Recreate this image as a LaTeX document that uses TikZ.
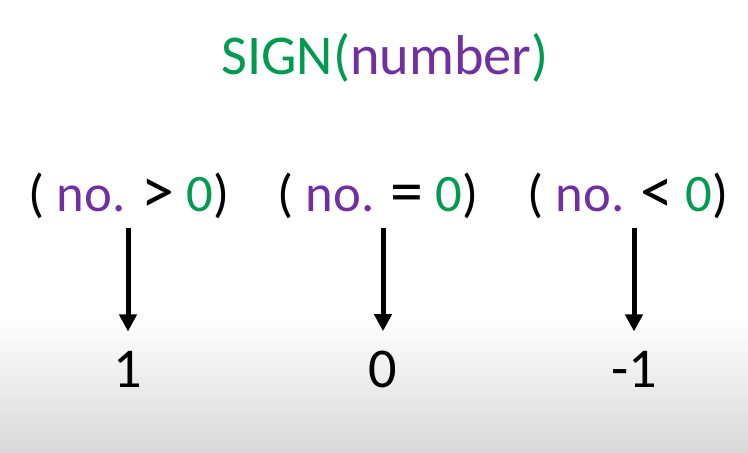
\documentclass[tikz,border=0pt]{standalone}
\usepackage{fontspec}
\setmainfont{Carlito}
\usepackage{tikz}
\usetikzlibrary{calc}
\usetikzlibrary{arrows.meta}

\definecolor{signgreen}{RGB}{0,155,80}
\definecolor{signpurple}{RGB}{112,48,160}
\newcommand{\relsym}[1]{\raisebox{-0.02em}{\scalebox{1.25}{#1}}}

\begin{document}
\begin{tikzpicture}[x=0.02cm,y=0.02cm,
        big/.style={inner sep=0pt,anchor=base,font=\fontsize{32}{38}\selectfont},
        cond/.style={inner sep=0pt,anchor=base,font=\fontsize{30}{36}\selectfont},
        res/.style={big},
        down/.style={-{Triangle[width=0.34cm,length=0.34cm]},line width=0.1cm,shorten <=0.16cm,shorten >=0.4cm}
      ]
      \useasboundingbox (0,0) rectangle (748,453);
      \shade[top color=white,bottom color=black!15] (0,0) rectangle (748,138);
      \node[big] (title) at (385,378) {\textcolor{signgreen}{SIGN(}\textcolor{signpurple}{number}\textcolor{signgreen}{)}};
      \node[cond] (gtz) at (129,241) {( \textcolor{signpurple}{no.} \relsym{>} \textcolor{signgreen}{0})};
      \node[cond] (eqz) at (378,241) {( \textcolor{signpurple}{no.} \relsym{=} \textcolor{signgreen}{0})};
      \node[cond] (ltz) at (628,241) {( \textcolor{signpurple}{no.} \relsym{<} \textcolor{signgreen}{0})};
      \node[res] (one) at (128,65) {1};
      \node[res] (zero) at (383,65) {0};
      \node[res] (minusone) at (634,65) {-1};
      \draw[down] (gtz.south -| one.north) -- (one.north);
      \draw[down] (eqz.south -| zero.north) -- (zero.north);
      \draw[down] (ltz.south -| minusone.north) -- (minusone.north);
    \end{tikzpicture}
\end{document}
